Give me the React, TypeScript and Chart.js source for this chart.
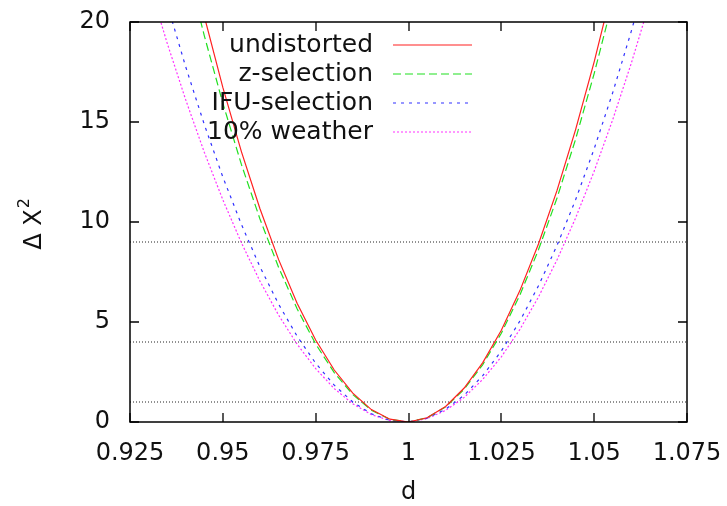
import React, { useEffect, useRef } from "react";
import { Chart, registerables } from "chart.js";

Chart.register(...registerables);

// ---- data ----
const dGrid = [
  0.925, 0.93, 0.935, 0.94, 0.945, 0.95, 0.955, 0.96, 0.965, 0.97, 0.975,
  0.98, 0.985, 0.99, 0.995, 1.0, 1.005, 1.01, 1.015, 1.02, 1.025, 1.03,
  1.035, 1.04, 1.045, 1.05, 1.055, 1.06, 1.065, 1.07, 1.075,
];
const undistorted = [
  null, null, null, 24.18, 20.29, 16.73, 13.52, 10.66, 8.13, 5.94, 4.1,
  2.6, 1.44, 0.62, 0.14, 0.0, 0.21, 0.78, 1.7, 2.97, 4.59, 6.57,
  8.9, 11.58, 14.62, 18.01, 21.75, null, null, null, null,
];
const zSelection = [
  null, null, null, 23.02, 19.32, 15.94, 12.88, 10.15, 7.74, 5.66, 3.9,
  2.47, 1.37, 0.59, 0.13, 0.0, 0.21, 0.75, 1.64, 2.87, 4.44, 6.35,
  8.61, 11.2, 14.14, 17.42, 21.04, null, null, null, null,
];
const ifuSelection = [
  null, 24.29, 20.9, 17.76, 14.88, 12.25, 9.88, 7.76, 5.9, 4.29, 2.94,
  1.84, 1.0, 0.41, 0.08, 0.01, 0.19, 0.64, 1.34, 2.32, 3.55, 5.05,
  6.81, 8.83, 11.11, 13.66, 16.47, 19.54, 22.87, null, null,
];
const weather10 = [
  25.34, 22.03, 18.95, 16.11, 13.49, 11.11, 8.96, 7.04, 5.35, 3.89, 2.67,
  1.67, 0.91, 0.37, 0.07, 0.0, 0.17, 0.58, 1.23, 2.13, 3.26, 4.63,
  6.25, 8.11, 10.2, 12.54, 15.12, 17.94, 21.01, null, null,
];
const seriesLabels = ["undistorted", "z-selection", "IFU-selection", "10% weather"];
const xTicks = [0.925, 0.95, 0.975, 1, 1.025, 1.05, 1.075];
const yTicks = [0, 5, 10, 15, 20];
const refLevels = [1, 4, 9];
const xTitle = "d";

// ---- styles ----
const FONT = "'DejaVu Sans', 'Liberation Sans', sans-serif";
const seriesColors = ["#ff2020", "#20e020", "#3030ff", "#ff30ff"];
const seriesDashes: number[][] = [[], [8, 4], [3, 5], [2, 2]];

const zeroPad = (s: any) => {
  s.paddingTop = 0;
  s.paddingBottom = 0;
  s.paddingLeft = 0;
  s.paddingRight = 0;
};

export default function App() {
  const ref = useRef<HTMLCanvasElement | null>(null);

  useEffect(() => {
    document.body.style.margin = "0";
    const canvas = ref.current;
    if (!canvas) return;

    const seriesData = [undistorted, zSelection, ifuSelection, weather10];
    const datasets: any[] = seriesData.map((vals, i) => ({
      label: seriesLabels[i],
      data: dGrid.map((d, k) => ({ x: d, y: vals[k] })),
      borderColor: seriesColors[i],
      borderWidth: 1.2,
      borderDash: seriesDashes[i],
      pointRadius: 0,
      tension: 0,
      spanGaps: false,
      fill: false,
    }));
    refLevels.forEach((lv) => {
      datasets.push({
        label: "",
        data: [
          { x: xTicks[0], y: lv },
          { x: xTicks[xTicks.length - 1], y: lv },
        ],
        borderColor: "#222",
        borderWidth: 1,
        borderDash: [1, 2],
        pointRadius: 0,
        fill: false,
      });
    });

    const framePlugin = {
      id: "gnuFrame",
      afterDraw(chart: any) {
        const { ctx, chartArea: a, scales } = chart;
        const xs = scales.x;
        const ys = scales.y;
        ctx.save();
        // frame
        ctx.strokeStyle = "#000";
        ctx.lineWidth = 1.5;
        ctx.setLineDash([]);
        ctx.strokeRect(a.left, a.top, a.right - a.left, a.bottom - a.top);
        // inward ticks (mirrored)
        const tl = 9;
        ctx.lineWidth = 1.3;
        ctx.beginPath();
        xTicks.forEach((v) => {
          const px = Math.round(xs.getPixelForValue(v));
          ctx.moveTo(px, a.bottom);
          ctx.lineTo(px, a.bottom - tl);
          ctx.moveTo(px, a.top);
          ctx.lineTo(px, a.top + tl);
        });
        yTicks.forEach((v) => {
          const py = Math.round(ys.getPixelForValue(v));
          ctx.moveTo(a.left, py);
          ctx.lineTo(a.left + tl, py);
          ctx.moveTo(a.right, py);
          ctx.lineTo(a.right - tl, py);
        });
        ctx.stroke();

        // legend (gnuplot style: right-aligned text, sample to its right)
        const textRight = 373;
        const sx0 = 393;
        const sx1 = 472;
        const rowY = [45, 74, 103, 132];
        ctx.font = `25px ${FONT}`;
        ctx.textAlign = "right";
        ctx.textBaseline = "middle";
        seriesLabels.forEach((lab, i) => {
          ctx.fillStyle = "#111";
          ctx.fillText(lab, textRight, rowY[i]);
          ctx.strokeStyle = seriesColors[i];
          ctx.lineWidth = 1.2;
          ctx.setLineDash(seriesDashes[i]);
          ctx.beginPath();
          ctx.moveTo(sx0, rowY[i]);
          ctx.lineTo(sx1, rowY[i]);
          ctx.stroke();
        });
        ctx.setLineDash([]);

        // x title
        ctx.fillStyle = "#111";
        ctx.font = `24px ${FONT}`;
        ctx.textAlign = "center";
        ctx.textBaseline = "alphabetic";
        ctx.fillText(xTitle, (a.left + a.right) / 2, 499);

        // y title: Δ X² (rotated)
        ctx.save();
        ctx.translate(41, 224);
        ctx.rotate(-Math.PI / 2);
        ctx.font = `24px ${FONT}`;
        const main = "Δ X";
        const w = ctx.measureText(main).width;
        ctx.font = `16px ${FONT}`;
        const w2 = ctx.measureText("2").width;
        const total = w + w2 + 1;
        ctx.textAlign = "left";
        ctx.font = `24px ${FONT}`;
        ctx.fillText(main, -total / 2, 0);
        ctx.font = `16px ${FONT}`;
        ctx.fillText("2", -total / 2 + w + 1, -12);
        ctx.restore();

        ctx.restore();
      },
    };

    const chart = new Chart(canvas, {
      type: "line",
      data: { datasets },
      options: {
        responsive: false,
        animation: false,
        events: [],
        layout: { padding: { top: 22, right: 40, left: 0, bottom: 0 } },
        plugins: { legend: { display: false }, tooltip: { enabled: false } },
        scales: {
          x: {
            type: "linear",
            min: xTicks[0],
            max: xTicks[xTicks.length - 1],
            afterBuildTicks: (s: any) => {
              s.ticks = xTicks.map((v) => ({ value: v }));
            },
            afterFit: (s: any) => {
              s.height = 84;
              zeroPad(s);
            },
            grid: { display: false, drawTicks: false },
            border: { display: false },
            ticks: {
              autoSkip: false,
              maxRotation: 0,
              padding: 17,
              color: "#111",
              font: { family: FONT, size: 24 },
              callback: (v: any) => String(Number(Number(v).toFixed(3))),
            },
          },
          y: {
            type: "linear",
            min: yTicks[0],
            max: yTicks[yTicks.length - 1],
            afterBuildTicks: (s: any) => {
              s.ticks = yTicks.map((v) => ({ value: v }));
            },
            afterFit: (s: any) => {
              s.width = 130;
              zeroPad(s);
            },
            grid: { display: false, drawTicks: false },
            border: { display: false },
            ticks: {
              padding: 20,
              color: "#111",
              font: { family: FONT, size: 24 },
              callback: (v: any) => String(v),
            },
          },
        },
      },
      plugins: [framePlugin],
    } as any);

    return () => chart.destroy();
  }, []);

  return (
    <div style={{ position: "absolute", left: 0, top: 0, width: 727, height: 506, background: "#fff" }}>
      <canvas ref={ref} width={727} height={506} style={{ width: 727, height: 506, display: "block" }} />
    </div>
  );
}
